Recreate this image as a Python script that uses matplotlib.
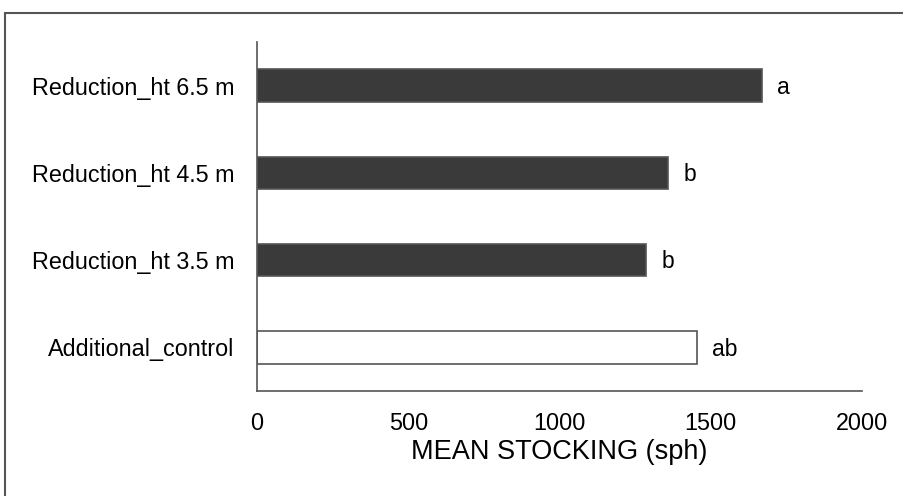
import matplotlib.pyplot as plt
from matplotlib.patches import Rectangle

categories = ["Additional_control", "Reduction_ht 3.5 m", "Reduction_ht 4.5 m", "Reduction_ht 6.5 m"]
stocking = [1455, 1286, 1359, 1669]
letters = ["ab", "b", "b", "a"]
fills = ["white", "#3a3a3a", "#3a3a3a", "#3a3a3a"]

plt.rcParams['font.family'] = ['Liberation Sans', 'DejaVu Sans']

fig = plt.figure(figsize=(9.04, 4.96), dpi=100)
ax = fig.add_axes([0.2843, 0.2117, 0.9535 - 0.2843, 0.9153 - 0.2117])

ypos = range(len(categories))
ax.barh(ypos, stocking, height=0.37, color=fills, edgecolor="#555555", linewidth=1.2)

for y, v, s in zip(ypos, stocking, letters):
    ax.text(v + 50, y - 0.02, s, va="center", ha="left", fontsize=16.5)

ax.set_xlim(0, 2000)
ax.set_ylim(-0.5, 3.5)
ax.set_xticks([0, 500, 1000, 1500, 2000])
ax.set_yticks(list(ypos))
ax.set_yticklabels(categories)
ax.tick_params(axis="both", length=0, labelsize=16.8)
ax.tick_params(axis="x", pad=15)
ax.tick_params(axis="y", pad=16)
ax.set_xlabel("MEAN STOCKING (sph)", fontsize=19.5, labelpad=3)

for side in ["top", "right"]:
    ax.spines[side].set_visible(False)
for side in ["left", "bottom"]:
    ax.spines[side].set_color("#555555")
    ax.spines[side].set_linewidth(1.2)

# outer frame around the figure (runs off the right and bottom edges)
frame = Rectangle((5 / 904, -0.1), 1.2, 1 - 13 / 496 + 0.1, transform=fig.transFigure,
                  fill=False, edgecolor="#555555", linewidth=1.5)
fig.patches.append(frame)

fig.savefig("out.png", dpi=100)
